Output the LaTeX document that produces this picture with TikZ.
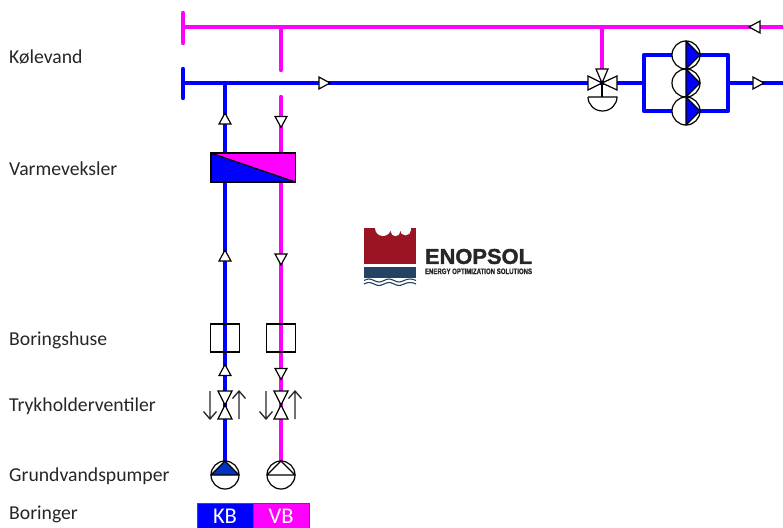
\documentclass[tikz,border=0pt]{standalone}
\usepackage{fontspec}
\setmainfont{Carlito}
\newfontfamily\logofont[FakeBold=1.6]{Liberation Sans}
\usetikzlibrary{shapes.geometric,backgrounds}
\definecolor{pipeblue}{RGB}{0,0,255}
\definecolor{pipemag}{RGB}{255,0,255}
\definecolor{pumpdark}{RGB}{0,51,190}
\definecolor{logored}{RGB}{155,20,35}
\definecolor{logonavy}{RGB}{36,66,100}
\tikzset{
  x=1pt,y=-1pt,
  bluepipe/.style={draw=pipeblue,line width=4.4pt,line cap=round,line join=round},
  magpipe/.style={draw=pipemag,line width=4.4pt,line cap=round,line join=round},
  sym/.style={draw=black,line width=1.2pt},
  flow/.style={isosceles triangle,isosceles triangle stretches,draw=black,line width=1.2pt,fill=white,
     minimum width=12pt,minimum height=11pt,inner sep=0pt,anchor=center,shape border rotate=#1},
  hbox/.style={draw=black,line width=1.2pt,minimum width=28.5pt,minimum height=28pt,inner sep=0pt},
  pumpc/.style={circle,draw=black,line width=1.2pt,fill=white,minimum size=28pt,inner sep=0pt},
  lab/.style={anchor=west,inner sep=0pt,font=\fontsize{19.7pt}{21pt}\selectfont,text=black!85},
  dirarrow/.style={draw=black!85,line width=1.3pt},
  valveT/.style={draw=black,line width=1.2pt,fill=white,line join=miter},
  pics/bow/.style={code={
     \draw[valveT] (-7,-14) -- (7,-14) -- (-7,14) -- (7,14) -- cycle;
  }},
  pics/headd/.style={code={
     \draw[dirarrow] (0,-14) -- (0,14) (-6.5,6.5) -- (0,14) -- (6.5,6.5);
  }},
  pics/headu/.style={code={
     \draw[dirarrow] (0,14) -- (0,-14) (-6.5,-6.5) -- (0,-14) -- (6.5,-6.5);
  }},
}
\begin{document}
\begin{tikzpicture}
\useasboundingbox (0,0) rectangle (783,527);
% free-end coordinates
\coordinate (mL) at (183,27);
\coordinate (mT) at (183,13);
\coordinate (mB) at (183,43);
\coordinate (mR) at (786,27);
\coordinate (bL) at (183,83);
\coordinate (bT) at (183,69);
\coordinate (bB) at (183,98);
\coordinate (bR) at (786,83);
\coordinate (jm) at (281,27);
\coordinate (jmEnd) at (281,70);
\coordinate (jmRes) at (281,97);
\coordinate (jb) at (225,83);
\coordinate (jv) at (602,27);
\coordinate (busL) at (644,83);
\coordinate (busLT) at (644,55);
\coordinate (busLB) at (644,111);
\coordinate (busR) at (728,83);
\coordinate (busRT) at (728,55);
\coordinate (busRB) at (728,111);
% heat exchanger
\node[draw=black,line width=1.2pt,minimum width=84pt,minimum height=28pt,inner sep=0pt,fill=pipeblue] (hx) at (253,167.5) {};
\fill[pipemag] (hx.north west) -- (hx.north east) -- (hx.south east) -- cycle;
\draw[black,line width=1.2pt] (hx.north west) -- (hx.south east);
\draw[black,line width=1.2pt] (hx.north west) rectangle (hx.south east);
% boring houses
\node[hbox] (hus1) at (225,338) {};
\node[hbox] (hus2) at (281,338) {};
% pumps at bottom
\node[pumpc] (gp1) at (225,475) {};
\fill[pumpdark] (225,461) -- (211,475) -- (239,475) -- cycle;
\draw[sym,line join=round] (225,461) -- (211,475) -- (239,475) -- cycle;
\node[pumpc] (gp2) at (281,475) {};
\draw[sym,line join=round] (281,461) -- (267,475) -- (295,475) -- cycle;
% pressure valves
\coordinate (v1) at (225,405);
\coordinate (v2) at (281,405);
\pic at (v1) {bow};
\pic at (v2) {bow};
\pic at (210,405) {headd};
\pic at (239,405) {headu};
\pic at (266,405) {headd};
\pic at (295,405) {headu};
% right hand pumps
\foreach \n/\yy in {rp1/55,rp2/83,rp3/111}{
  \node[pumpc] (\n) at (686,\yy) {};
  \draw[sym,fill=pipeblue,line join=round] (686,\yy-14) -- (700,\yy) -- (686,\yy+14) -- cycle;
}
% three-way valve
\coordinate (tv) at (602,83);
\draw[valveT] (tv) -- (588,76) -- (588,90) -- cycle;
\draw[valveT] (tv) -- (617,76) -- (617,90) -- cycle;
\draw[valveT] (tv) -- (596,69) -- (608,69) -- cycle;
\draw[sym] (tv) -- (602,97);
\draw[sym] (588,97) -- (617,97) arc[start angle=0,end angle=180,x radius=14.5pt,y radius=-14pt] ;
% pipes, underneath the symbols
\begin{pgfonlayer}{background}
  \draw[magpipe] (mT) -- (mB);
  \draw[magpipe] (mL) -- (mR);
  \draw[magpipe] (jm) -- (jmEnd);
  \draw[magpipe] (jmRes) -- (hx.north -| jmRes);
  \draw[magpipe] (hx.south -| jmRes) -- (hus2.north);
  \draw[magpipe] (hus2.north) -- (hus2.south);
  \draw[magpipe] (hus2.south) -- (v2);
  \draw[magpipe] (v2) -- (gp2.north);
  \draw[magpipe] (jv) -- (tv);
  \draw[bluepipe] (bT) -- (bB);
  \draw[bluepipe] (bL) -- (tv);
  \draw[bluepipe] (jb) -- (hx.north -| jb);
  \draw[bluepipe] (hx.south -| jb) -- (hus1.north);
  \draw[bluepipe] (hus1.north) -- (hus1.south);
  \draw[bluepipe] (hus1.south) -- (v1);
  \draw[bluepipe] (v1) -- (gp1.north);
  \draw[bluepipe] (tv) -- (busL);
  \draw[bluepipe] (rp1.west) -- (busLT) -- (busLB) -- (rp3.west);
  \draw[bluepipe] (rp1.east) -- (busRT) -- (busRB) -- (rp3.east);
  \draw[bluepipe] (busR) -- (bR);
\end{pgfonlayer}
% flow arrows
\node[flow=0] (fa1) at (322.5,83) {};
\node[flow=90] (fa2) at (225,120.5) {};
\node[flow=270] (fa3) at (281,120) {};
\node[flow=90] (fa4) at (225,257.5) {};
\node[flow=270] (fa5) at (281,257.5) {};
\node[flow=90] (fa6) at (225,372) {};
\node[flow=270] (fa7) at (281,372) {};
\node[flow=180] (fa8) at (756.5,27) {};
\node[flow=0] (fa9) at (756.5,83) {};
% borings
\node[draw=black!70,line width=.8pt,fill=pipeblue,minimum width=56pt,minimum height=26pt,inner sep=0pt,anchor=north,text=white,font=\fontsize{22.5pt}{24pt}\selectfont] (kb) at (225,503) {KB};
\node[draw=black!70,line width=.8pt,fill=pipemag,minimum width=56pt,minimum height=26pt,inner sep=0pt,anchor=north,text=white,font=\fontsize{22.5pt}{24pt}\selectfont] (vb) at (281,503) {VB};
% labels
\node[lab] (l1) at (9,57) {Kølevand};
\node[lab] (l2) at (9,169) {Varmeveksler};
\node[lab] (l3) at (9,340) {Boringshuse};
\node[lab] (l4) at (9,406) {Trykholderventiler};
\node[lab] (l5) at (9,476) {Grundvandspumper};
\node[lab] (l6) at (9,514) {Boringer};
% logo
\fill[logored] (364,228) rectangle (416,264);
\fill[white] (376,227.5) rectangle (410.5,231);
\fill[white] (383,228) circle[radius=8pt];
\fill[white] (395.5,231.5) circle[radius=4.7pt];
\fill[white] (405.5,230) circle[radius=5.4pt];
\fill[logonavy] (364,267) rectangle (416,278);
\draw[logonavy,line width=1.1pt] (364,280.5) .. controls (368,278.5) and (370,278.5) .. (374,280.5) .. controls (378,282.5) and (380,282.5) .. (384,280.5) .. controls (388,278.5) and (390,278.5) .. (394,280.5) .. controls (398,282.5) and (400,282.5) .. (404,280.5) .. controls (408,278.5) and (412,278.5) .. (416,280.5);
\draw[logonavy,line width=1.1pt] (364,284) .. controls (368,282) and (370,282) .. (374,284) .. controls (378,286) and (380,286) .. (384,284) .. controls (388,282) and (390,282) .. (394,284) .. controls (398,286) and (400,286) .. (404,284) .. controls (408,282) and (412,282) .. (416,284);
\node[inner sep=0pt,anchor=center,text=black!85] (logo1) at (478.5,256.5) {\logofont\bfseries\resizebox{107pt}{15pt}{ENOPSOL}};
\node[inner sep=0pt,anchor=center,text=black!85,font=\fontsize{6pt}{6pt}\selectfont] (logo2) at (478.5,271.3) {\resizebox{107pt}{5.5pt}{\logofont\bfseries ENERGY OPTIMIZATION SOLUTIONS}};
\end{tikzpicture}
\end{document}
